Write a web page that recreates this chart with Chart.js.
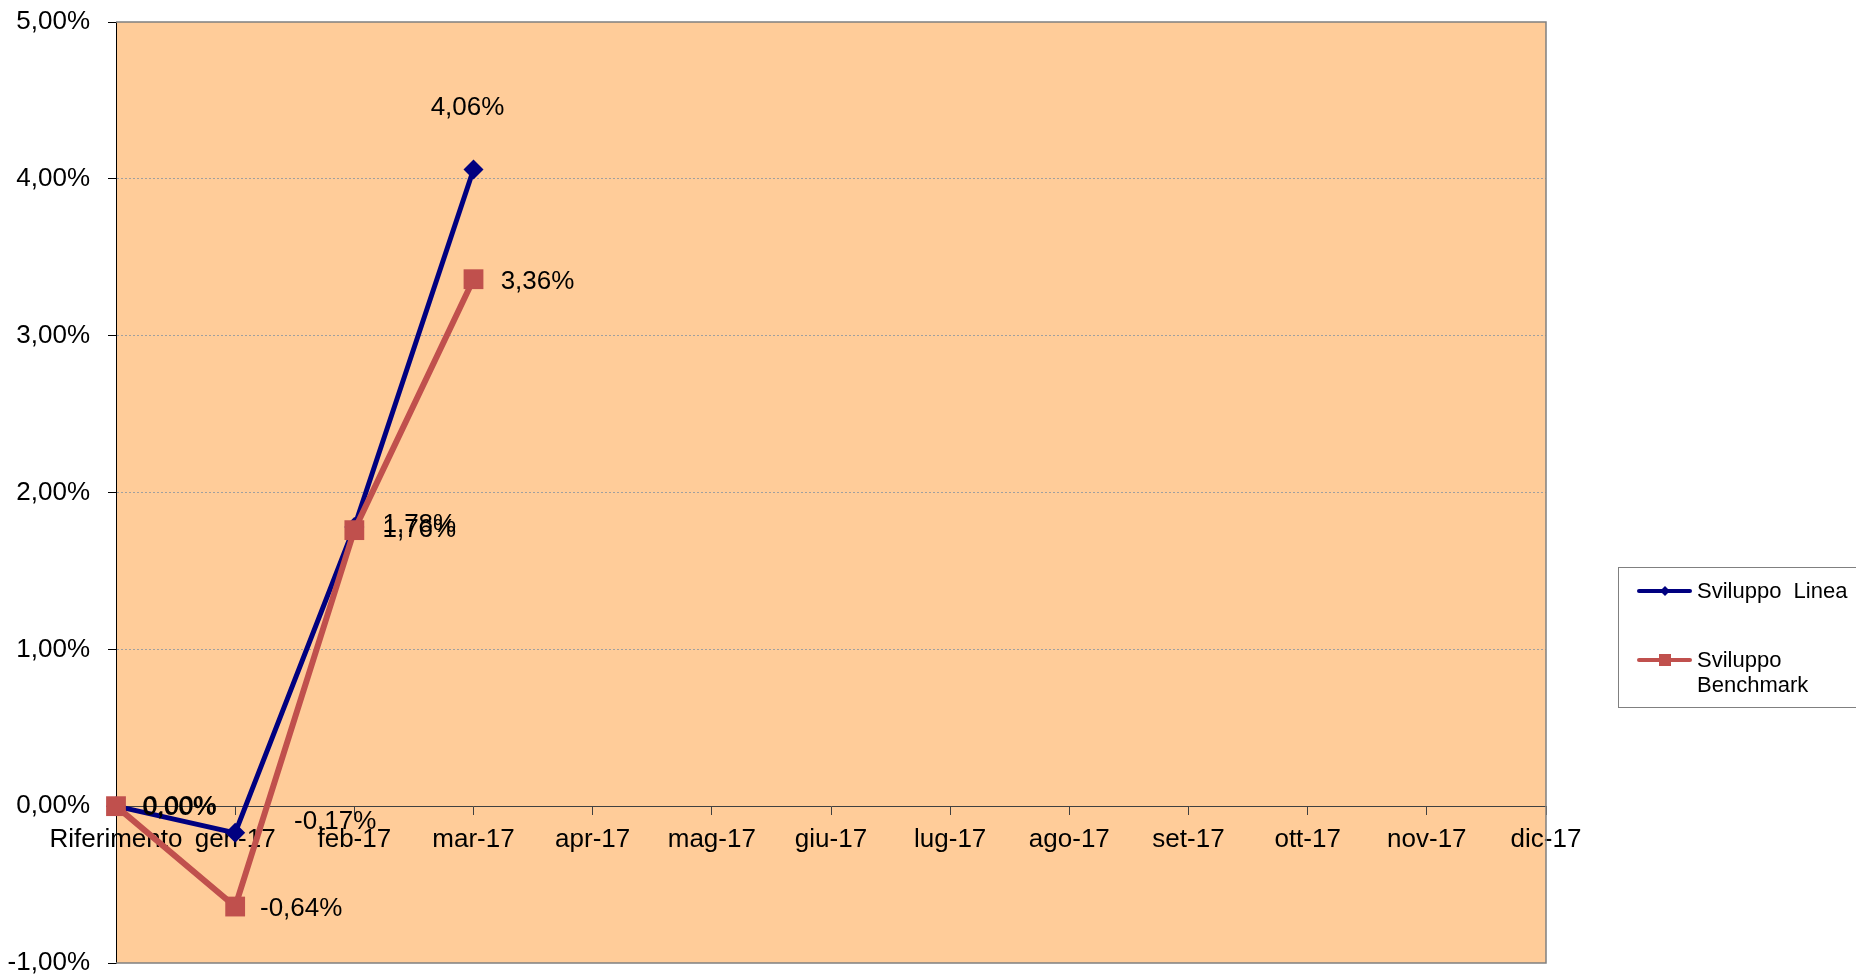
<!DOCTYPE html>
<html>
<head>
<meta charset="utf-8">
<script src="https://cdn.jsdelivr.net/npm/chart.js@4.4.1/dist/chart.umd.min.js"></script>
<style>
  html, body { margin: 0; padding: 0; background: #fff; }
  #wrap { width: 1856px; height: 977px; position: relative; }
</style>
</head>
<body>
<div id="wrap"><canvas id="chart"></canvas></div>
<script>
const categories = ["Riferimento", "gen-17", "feb-17", "mar-17", "apr-17", "mag-17", "giu-17", "lug-17", "ago-17", "set-17", "ott-17", "nov-17", "dic-17"];
const sviluppoLinea = [0.0, -0.17, 1.78, 4.06, null, null, null, null, null, null, null, null, null];
const sviluppoBenchmark = [0.0, -0.64, 1.76, 3.36, null, null, null, null, null, null, null, null, null];
const seriesNames = ["Sviluppo  Linea", "Sviluppo Benchmark"];
const yTicks = [-1, 0, 1, 2, 3, 4, 5];

const navy = "#000080";
const brick = "#C0504D";
const plotFill = "#FFCC99";
const font = "Liberation Sans, Arial, sans-serif";

const pct = (v) => v.toFixed(2).replace(".", ",") + "%";

// label centre offsets from each point, px (Excel had them nudged by hand)
const labelOffsets = [
  [[64, 1], [100, -11], [65, -2], [-6, -62]],
  [[63, 2], [66, 2], [65, 0], [64, 3]],
];

const plotArea = {
  id: "plotArea",
  beforeDraw(chart) {
    const { ctx, chartArea: a } = chart;
    ctx.save();
    ctx.fillStyle = plotFill;
    ctx.fillRect(a.left, a.top, a.right - a.left, a.bottom - a.top);
    ctx.restore();
  },
  beforeDatasetsDraw(chart) {
    const { ctx, chartArea: a } = chart;
    ctx.save();
    ctx.strokeStyle = "#808080";
    ctx.lineWidth = 1.5;
    ctx.beginPath();
    ctx.moveTo(a.left, a.top);
    ctx.lineTo(a.right, a.top);
    ctx.lineTo(a.right, a.bottom);
    ctx.lineTo(a.left, a.bottom);
    ctx.stroke();
    ctx.restore();
  },
};

const valueLabels = {
  id: "valueLabels",
  afterDatasetsDraw(chart) {
    const ctx = chart.ctx;
    ctx.save();
    ctx.font = "26px " + font;
    ctx.fillStyle = "#000";
    ctx.textAlign = "center";
    ctx.textBaseline = "middle";
    chart.data.datasets.forEach((ds, i) => {
      const meta = chart.getDatasetMeta(i);
      meta.data.forEach((pt, j) => {
        const v = ds.data[j];
        if (v === null) return;
        const off = labelOffsets[i][j] || [60, 0];
        ctx.fillText(pct(v), pt.x + off[0], pt.y + off[1]);
      });
    });
    ctx.restore();
  },
};

const sideLegend = {
  id: "sideLegend",
  afterDraw(chart) {
    const ctx = chart.ctx;
    const box = { x: 1618, y: 567, w: 260, h: 140 };
    ctx.save();
    ctx.strokeStyle = "#808080";
    ctx.lineWidth = 1;
    ctx.strokeRect(box.x + 0.5, box.y + 0.5, box.w, box.h);
    ctx.font = "22px " + font;
    ctx.fillStyle = "#000";
    ctx.textBaseline = "middle";
    const rows = [591, 660];
    chart.data.datasets.forEach((ds, i) => {
      const y = rows[i];
      ctx.strokeStyle = ds.borderColor;
      ctx.lineWidth = 4;
      ctx.lineCap = "round";
      ctx.beginPath();
      ctx.moveTo(1639, y);
      ctx.lineTo(1690, y);
      ctx.stroke();
      ctx.fillStyle = ds.borderColor;
      ctx.beginPath();
      if (ds.pointStyle === "rectRot") {
        ctx.moveTo(1665, y - 5);
        ctx.lineTo(1670, y);
        ctx.lineTo(1665, y + 5);
        ctx.lineTo(1660, y);
        ctx.closePath();
      } else {
        ctx.rect(1659, y - 6, 12, 12);
      }
      ctx.fill();
      // wrap words to the box width
      ctx.fillStyle = "#000";
      const words = ds.label.split(" ");
      const lines = [];
      let cur = "";
      words.forEach((w) => {
        const test = cur === "" ? w : cur + " " + w;
        if (cur !== "" && ctx.measureText(test).width > 160) {
          lines.push(cur);
          cur = w;
        } else cur = test;
      });
      lines.push(cur);
      lines.forEach((ln, k) => ctx.fillText(ln, 1697, y + 1 + k * 25));
    });
    ctx.restore();
  },
};

new Chart(document.getElementById("chart"), {
  type: "line",
  data: {
    labels: categories,
    datasets: [
      {
        label: seriesNames[0],
        data: sviluppoLinea,
        borderColor: navy,
        backgroundColor: navy,
        borderWidth: 5,
        pointStyle: "rectRot",
        pointRadius: 10,
        pointBorderWidth: 0,
        pointBackgroundColor: navy,
        tension: 0,
        order: 1,
      },
      {
        label: seriesNames[1],
        data: sviluppoBenchmark,
        borderColor: brick,
        backgroundColor: brick,
        borderWidth: 6,
        pointStyle: "rect",
        pointRadius: 14,
        pointBorderWidth: 0,
        pointBackgroundColor: brick,
        tension: 0,
        order: 0,
      },
    ],
  },
  options: {
    responsive: true,
    maintainAspectRatio: false,
    animation: false,
    events: [],
    layout: { padding: { left: 0, top: 22, right: 310, bottom: 14 } },
    plugins: { legend: { display: false }, tooltip: { enabled: false } },
    scales: {
      x: {
        position: { y: 0 },
        offset: false,
        grid: { drawOnChartArea: false, drawTicks: true, tickLength: 8, tickColor: "#404040" },
        border: { display: true, color: "#404040", width: 1 },
        ticks: { color: "#000", font: { family: font, size: 26 }, padding: 10, maxRotation: 0, minRotation: 0, autoSkip: false },
        afterFit: (s) => { s.paddingLeft = 0; s.paddingRight = 0; },
      },
      y: {
        position: "left",
        min: yTicks[0],
        max: yTicks[yTicks.length - 1],
        ticks: { stepSize: yTicks[1] - yTicks[0], callback: (v) => pct(v), padding: 18, color: "#000", font: { family: font, size: 26 } },
        grid: {
          color: (c) => (c.tick && c.tick.value > 0 && c.tick.value < 5 ? "#a0a0a0" : "transparent"),
          tickColor: "#000",
          tickLength: 8,
          lineWidth: 1,
        },
        border: { display: true, color: "#000", width: 1, dash: [2, 2] },
        afterFit: (s) => { s.width = 116; s.paddingTop = 0; s.paddingBottom = 0; },
      },
    },
  },
  plugins: [plotArea, valueLabels, sideLegend],
});
</script>
</body>
</html>
